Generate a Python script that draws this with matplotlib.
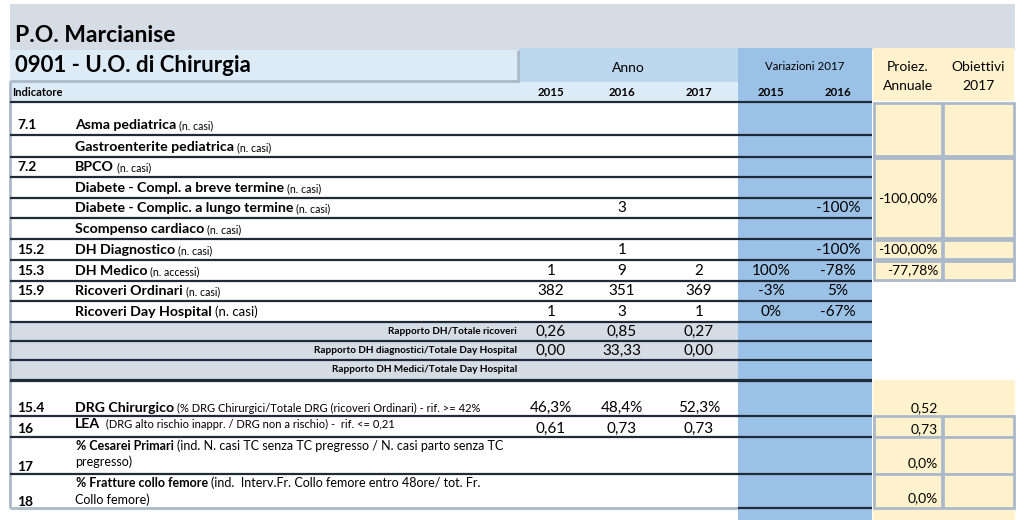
import matplotlib
matplotlib.use('Agg')
import matplotlib.pyplot as plt
from matplotlib.patches import Rectangle

plt.rcParams['font.family'] = ['Lato', 'DejaVu Sans']

# --- table content ---
title = 'P.O. Marcianise'
unit_name = '0901 - U.O. di Chirurgia'
years = ['2015', '2016', '2017']
var_years = ['2015', '2016']

codes = ['7.1', '', '7.2', '', '', '', '15.2', '15.3', '15.9', '']
indicators = ['Asma pediatrica', 'Gastroenterite pediatrica', 'BPCO',
              'Diabete - Compl. a breve termine', 'Diabete - Complic. a lungo termine',
              'Scompenso cardiaco', 'DH Diagnostico', 'DH Medico',
              'Ricoveri Ordinari', 'Ricoveri Day Hospital']
units = ['(n. casi)', '(n. casi)', '(n. casi)', '(n. casi)', '(n. casi)',
         '(n. casi)', '(n. casi)', '(n. accessi)', '(n. casi)', '(n. casi)']
val_2015 = ['', '', '', '', '', '', '', '1', '382', '1']
val_2016 = ['', '', '', '', '3', '', '1', '9', '351', '3']
val_2017 = ['', '', '', '', '', '', '', '2', '369', '1']
var_2015 = ['', '', '', '', '', '', '', '100%', '-3%', '0%']
var_2016 = ['', '', '', '', '-100%', '', '-100%', '-78%', '5%', '-67%']
proiez_main = ['', '-100,00%', '-100,00%', '-77,78%']

ratio_labels = ['Rapporto DH/Totale ricoveri',
                'Rapporto DH diagnostici/Totale Day Hospital',
                'Rapporto DH Medici/Totale Day Hospital']
ratio_2015 = ['0,26', '0,00', '']
ratio_2016 = ['0,85', '33,33', '']
ratio_2017 = ['0,27', '0,00', '']

qual_codes = ['15.4', '16', '17', '18']
qual_names = ['DRG Chirurgico', 'LEA', '% Cesarei Primari', '% Fratture collo femore']
qual_notes = ['(% DRG Chirurgici/Totale DRG (ricoveri Ordinari) - rif. >= 42%',
              ' (DRG alto rischio inappr. / DRG non a rischio) -  rif. <= 0,21',
              '(ind. N. casi TC senza TC pregresso / N. casi parto senza TC',
              '(ind.  Interv.Fr. Collo femore entro 48ore/ tot. Fr.']
qual_notes2 = ['', '', 'pregresso)', 'Collo femore)']
qual_2015 = ['46,3%', '0,61', '', '']
qual_2016 = ['48,4%', '0,73', '', '']
qual_2017 = ['52,3%', '0,73', '', '']
qual_proiez = ['0,52', '0,73', '0,0%', '0,0%']

# --- layout (pixels) ---
main_edges = [102, 135, 157, 177, 198, 218, 239, 260, 281, 301, 322]
ratio_edges = [322, 341, 360, 380]
qual_edges = [381, 416, 437, 474, 508]
yellow_blocks = [(0, 2), (2, 6), (6, 7), (7, 8)]
col_x = [551, 622, 699]
var_x = [771, 838]
proiez_right = 938

GREY_BAND = '#D6DCE4'
LIGHT_BLUE = '#DDEBF7'
MID_BLUE = '#BDD7EE'
VAR_BLUE = '#9BC2E6'
YELLOW = '#FFF2CC'
BORDER = '#ACB9CA'
DARK = '#1f2b38'

fig = plt.figure(figsize=(10.24, 5.2), dpi=100)
ax = fig.add_axes([0, 0, 1, 1])
ax.set_xlim(0, 1024)
ax.set_ylim(520, 0)
ax.axis('off')
renderer = fig.canvas.get_renderer()


def box(x0, y0, x1, y1, fc, ec='none', lw=0, z=1):
    ax.add_patch(Rectangle((x0, y0), x1 - x0, y1 - y0, facecolor=fc,
                           edgecolor=ec, linewidth=lw, zorder=z))


def rich(x, y, parts, gap=3):
    # bold name followed by a smaller note on the same baseline
    for txt, weight, size in parts:
        t = ax.text(x, y, txt, fontweight=weight, fontsize=size,
                    ha='left', va='baseline', zorder=5)
        x += t.get_window_extent(renderer=renderer).width + gap


# backgrounds
box(10, 4, 1015, 50, GREY_BAND)
box(10, 50, 517, 81, LIGHT_BLUE)
box(519, 48, 738, 82, MID_BLUE)
box(10, 82, 738, 101, LIGHT_BLUE)
box(738, 48, 872, 520, VAR_BLUE)
box(873, 48, 1014, 101, YELLOW)
box(10, ratio_edges[0], 738, ratio_edges[-1], GREY_BAND)

# yellow cells next to the main rows
for (r0, r1) in yellow_blocks:
    y0, y1 = main_edges[r0] + 1, main_edges[r1] - 1
    box(874, y0, 942, y1, YELLOW, BORDER, 2, z=2)
    box(943, y0, 1014, y1, YELLOW, BORDER, 2, z=2)
box(873, 380, 1015, 520, YELLOW)
for i in range(1, 4):
    y0, y1 = qual_edges[i], qual_edges[i + 1]
    box(874, y0, 942, y1, YELLOW, BORDER, 2, z=2)
    box(943, y0, 1014, y1, YELLOW, BORDER, 2, z=2)

# borders
ax.hlines(81, 10, 519, color=BORDER, lw=2, zorder=3)
ax.vlines(518, 50, 82, color=BORDER, lw=2, zorder=3)
ax.vlines(10, 81, 508, color=BORDER, lw=2, zorder=3)
ax.hlines(508, 10, 738, color=BORDER, lw=2, zorder=3)
ax.hlines(508, 738, 872, color=DARK, lw=1.6, zorder=3)
for y in main_edges + ratio_edges[1:] + qual_edges[:-1]:
    ax.hlines(y, 10, 872, color=DARK, lw=1.6, zorder=3)

# header texts
ax.text(15, 36, title, fontsize=16.5, fontweight='bold', va='center')
ax.text(15, 66, unit_name, fontsize=16, fontweight='bold', va='center')
ax.text(628, 68, 'Anno', fontsize=10, ha='center', va='center')
ax.text(805, 67, 'Variazioni 2017', fontsize=8.3, ha='center', va='center')
ax.text(908, 67, 'Proiez.', fontsize=10, ha='center', va='center')
ax.text(908, 86, 'Annuale', fontsize=10, ha='center', va='center')
ax.text(978, 67, 'Obiettivi', fontsize=10, ha='center', va='center')
ax.text(978, 86, '2017', fontsize=10, ha='center', va='center')
ax.text(12, 92, 'Indicatore', fontsize=8, fontweight='bold', va='center')
for x, yr in zip(col_x, years):
    ax.text(x, 92, yr, fontsize=8.3, fontweight='bold', ha='center', va='center')
for x, yr in zip(var_x, var_years):
    ax.text(x, 92, yr, fontsize=8.3, fontweight='bold', ha='center', va='center')

# main rows
for i in range(len(indicators)):
    yb = main_edges[i + 1] - 6
    ax.text(17, yb, codes[i], fontsize=10, fontweight='bold', va='baseline')
    unit_size = 9.5 if i == len(indicators) - 1 else 7.6
    rich(75, yb, [(indicators[i], 'bold', 10.2), (units[i], 'normal', unit_size)])
    for x, v in zip(col_x, [val_2015[i], val_2016[i], val_2017[i]]):
        ax.text(x, yb, v, fontsize=11, ha='center', va='baseline')
    for x, v in zip(var_x, [var_2015[i], var_2016[i]]):
        ax.text(x, yb, v, fontsize=11, ha='center', va='baseline')

for (r0, r1), v in zip(yellow_blocks, proiez_main):
    yc = (main_edges[r0] + main_edges[r1]) / 2
    ax.text(proiez_right, yc, v, fontsize=10, ha='right', va='center', zorder=5)

# ratio rows
for i in range(len(ratio_labels)):
    yc = (ratio_edges[i] + ratio_edges[i + 1]) / 2
    ax.text(517, yc, ratio_labels[i], fontsize=7.2, fontweight='bold',
            ha='right', va='center')
    for x, v in zip(col_x, [ratio_2015[i], ratio_2016[i], ratio_2017[i]]):
        ax.text(x, yc + 4.5, v, fontsize=11, ha='center', va='baseline')

# quality indicators
qual_base = [412, 428, 450, 487]
qual_base2 = [None, None, 466, 504]
code_base = [412, 433, 471, 506]
value_base = [412, 433, 467, 502]
for i in range(len(qual_codes)):
    ax.text(17, code_base[i], qual_codes[i], fontsize=10, fontweight='bold', va='baseline')
    if i < 2:
        rich(75, qual_base[i], [(qual_names[i], 'bold', 10.2), (qual_notes[i], 'normal', 8)])
    else:
        rich(76, qual_base[i], [(qual_names[i], 'bold', 9), (qual_notes[i], 'normal', 9)])
        ax.text(75, qual_base2[i], qual_notes2[i], fontsize=9, va='baseline')
    for x, v in zip(col_x, [qual_2015[i], qual_2016[i], qual_2017[i]]):
        ax.text(x, value_base[i], v, fontsize=11, ha='center', va='baseline')
    ax.text(proiez_right, value_base[i], qual_proiez[i], fontsize=10,
            ha='right', va='baseline', zorder=5)

fig.savefig('out.png', dpi=100)
